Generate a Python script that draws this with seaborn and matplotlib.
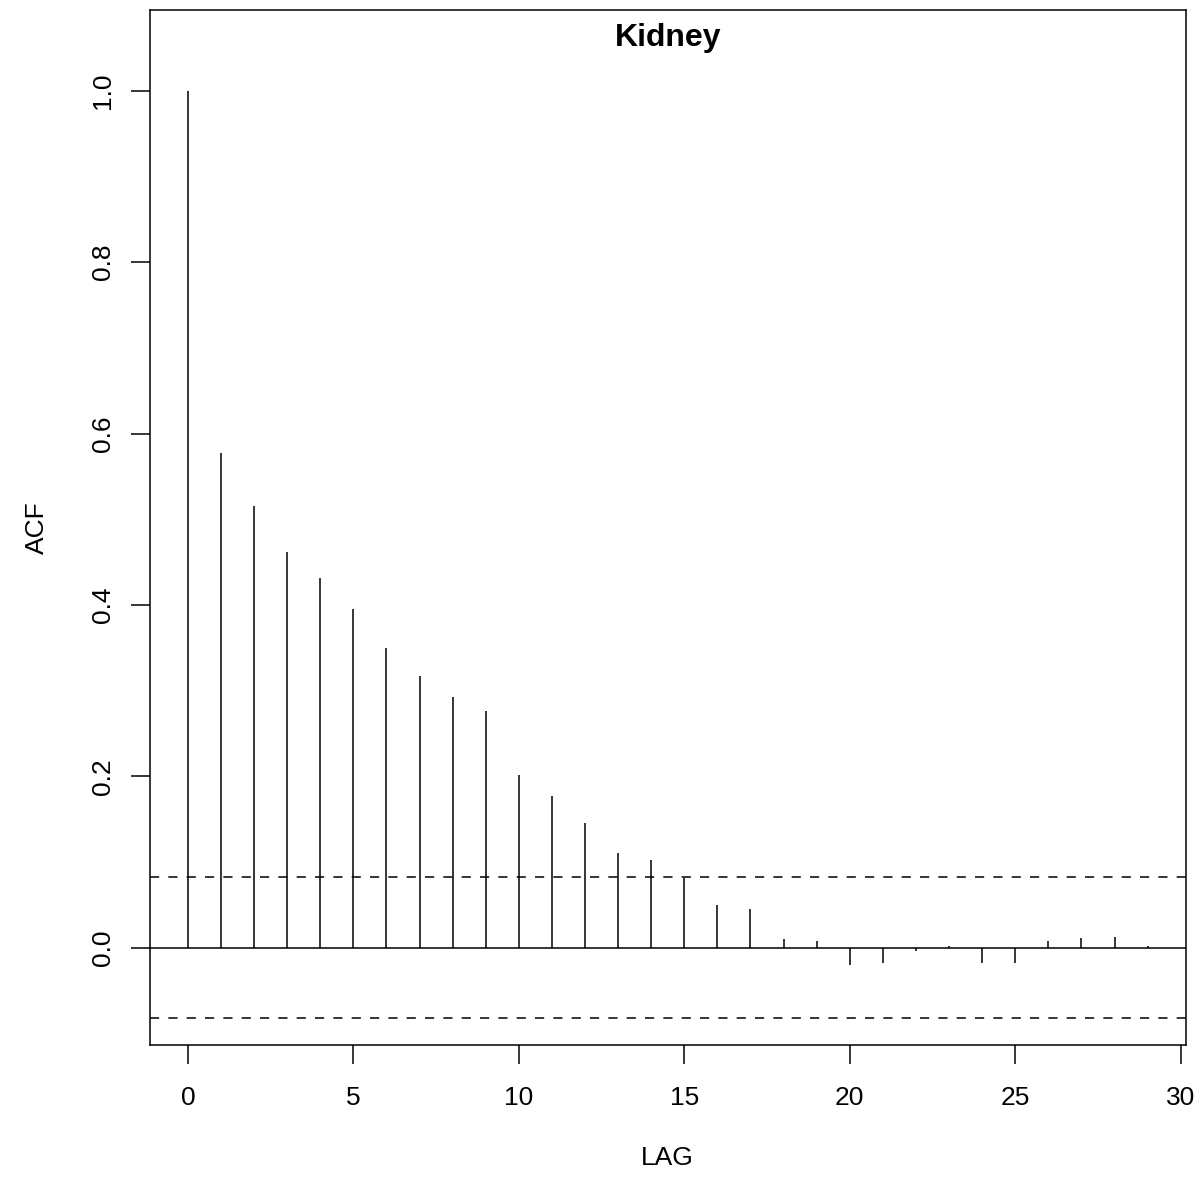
import numpy as np
import pandas as pd
import matplotlib
matplotlib.use("Agg")
import matplotlib.pyplot as plt
import seaborn as sns

# Sample autocorrelation of the kidney series, lags 0..29
lags = list(range(30))
acf_values = [1.000, 0.577, 0.516, 0.462, 0.431, 0.395, 0.350, 0.317, 0.293, 0.276,
              0.2015, 0.177, 0.146, 0.1105, 0.102, 0.081, 0.0495, 0.045, 0.010, 0.0074,
              -0.0206, -0.0182, -0.0035, 0.002, -0.018, -0.0175, 0.0074, 0.011, 0.012, 0.0023]
conf_bound = 0.082
x_ticks = [0, 5, 10, 15, 20, 25, 30]
y_ticks = [0.0, 0.2, 0.4, 0.6, 0.8, 1.0]

df = pd.DataFrame({"LAG": lags, "ACF": acf_values})

sns.set_theme(style="ticks")
plt.rcParams["font.family"] = ["Liberation Sans", "DejaVu Sans"]
plt.rcParams.update({"text.color": "black", "axes.labelcolor": "black",
                     "xtick.color": "black", "ytick.color": "black"})

W, H = 1204, 1187
fig = plt.figure(figsize=(W / 100, H / 100), dpi=100)
left, right, top, bottom = 149.5, 1186, 10.3, 1045.3
ax = fig.add_axes([left / W, 1 - bottom / H, (right - left) / W, (bottom - top) / H])

ax.vlines(df["LAG"], 0, df["ACF"], color="black", linewidth=1.1)
ax.axhline(0, color="black", linewidth=1.1)
for b in (conf_bound, -conf_bound):
    ax.axhline(b, color="black", linewidth=1.1, linestyle=(0, (6, 6)))

ax.set_xlim(-1.16, 30.16)
ax.set_ylim(-0.114, 1.094)
ax.set_xticks(x_ticks)
ax.set_yticks(y_ticks)
ax.set_xticklabels([str(t) for t in x_ticks])
ax.set_yticklabels([f"{t:.1f}" for t in y_ticks], rotation=90, va="center")
ax.tick_params(axis="both", direction="out", length=14, width=1.1, color="black",
               labelsize=19, labelcolor="black", pad=11)
ax.tick_params(axis="x", pad=15)

for s in ax.spines.values():
    s.set_color("black")
    s.set_linewidth(1.1)

ax.set_xlabel("LAG", fontsize=19, labelpad=26, color="black")
ax.set_ylabel("ACF", fontsize=19, labelpad=30, color="black")
ax.set_title("Kidney", fontsize=23, fontweight="bold", color="black", y=1.0, pad=-26)
ax.grid(False)

fig.savefig("out.png", dpi=100, facecolor="white")
